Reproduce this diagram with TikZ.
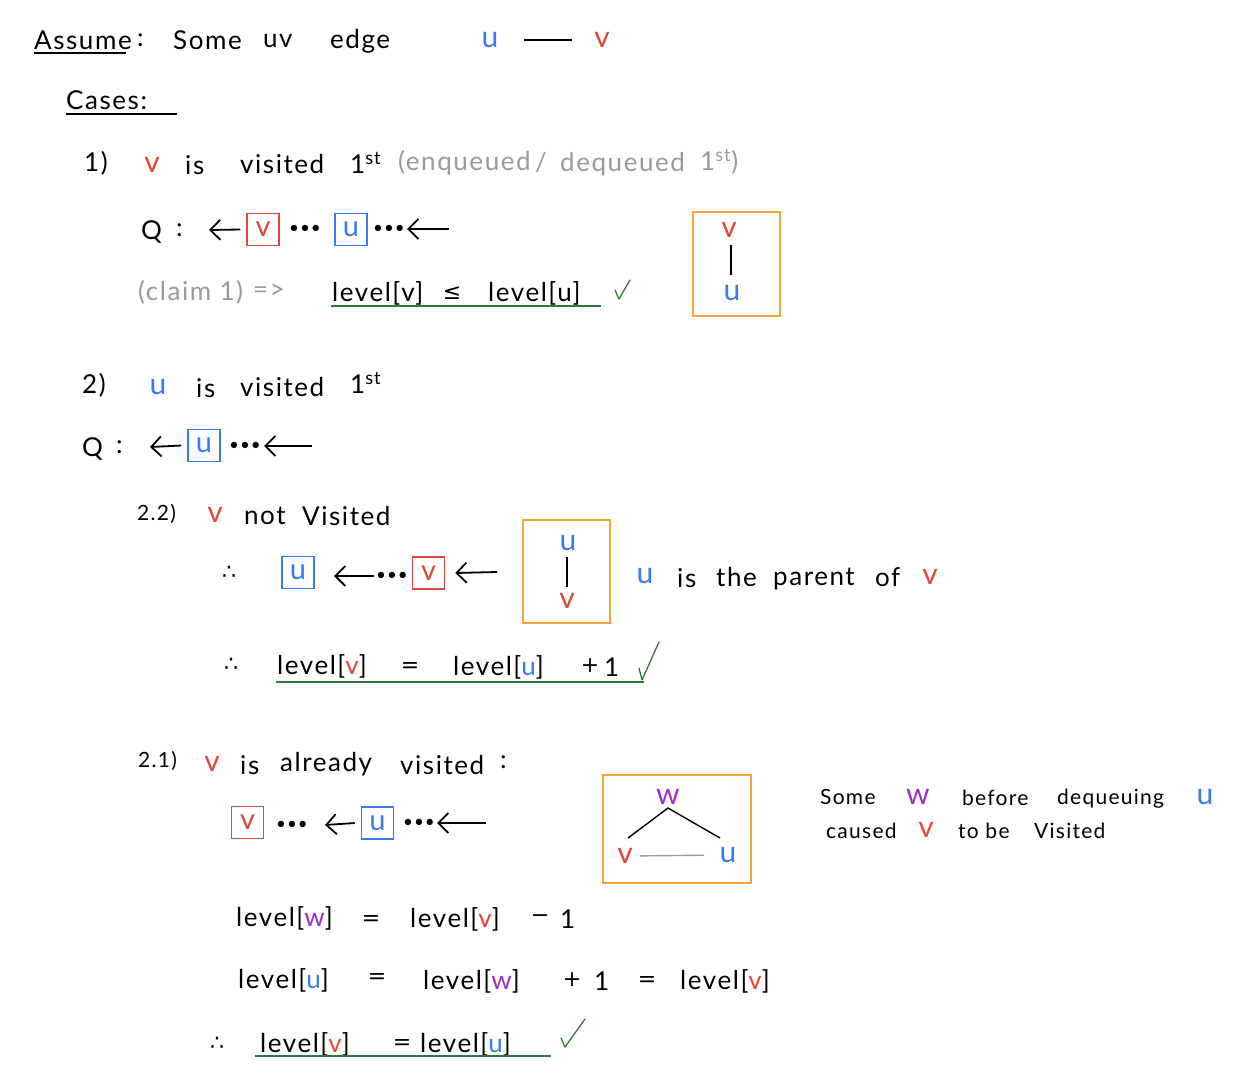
\documentclass[tikz,border=0pt]{standalone}
\usepackage{fontspec}
\setmainfont{Lato}[LetterSpace=6]
\newfontfamily\opfont{DejaVu Sans}
\usetikzlibrary{arrows.meta}
\definecolor{vred}{HTML}{E0483A}
\definecolor{ublue}{HTML}{3B7BF2}
\definecolor{frameor}{HTML}{F2A63A}
\definecolor{okgreen}{HTML}{2F7A3A}
\definecolor{wpurple}{HTML}{9B2FC4}
\definecolor{notegray}{HTML}{9A9A9A}
\newcommand{\rv}{\textcolor{vred}{v}}
\newcommand{\bu}{\textcolor{ublue}{u}}
\newcommand{\pw}{\textcolor{wpurple}{w}}
\begin{document}
\begin{tikzpicture}[x=1pt,y=-1pt,
  txt/.style={anchor=west,inner sep=0pt,font=\fontsize{26}{30}\selectfont},
  mid/.style={inner sep=0pt,font=\fontsize{30}{34}\selectfont},
  sym/.style={inner sep=0pt,font=\opfont\fontsize{22}{26}\selectfont},
  small/.style={anchor=west,inner sep=0pt,font=\fontsize{21}{25}\selectfont},
  gray/.style={txt,text=notegray},
  dots/.style={inner sep=0pt,font=\fontsize{17}{20}\selectfont},
  qbox/.style={draw,line width=1.5pt,minimum width=32pt,minimum height=32pt,inner sep=0pt,font=\fontsize{29}{32}\selectfont},
  vbox/.style={qbox,draw=vred,text=vred},
  ubox/.style={qbox,draw=ublue,text=ublue},
  frame/.style={draw=frameor,line width=1.6pt,inner sep=0pt},
  arr/.style={-{Straight Barb[length=10pt,width=20pt,line width=1.8pt]},line width=1.8pt},
  uline/.style={line width=1.4pt},
  gline/.style={okgreen,line width=1.6pt},
  check/.style={okgreen,line width=1.3pt,line cap=round,line join=round},
  edge/.style={line width=1.4pt}
]
\useasboundingbox (0,0) rectangle (1251,1088);

% ---------- heading ----------
\node[txt] (assume) at (34,40) {Assume};
\draw[uline] (34,53) -- (126,53);
\node[txt] (acol) at (137,40) {:};
\node[txt] (some) at (173,40) {Some};
\node[txt] (uv) at (263,41) {uv};
\node[txt] (edgew) at (330,41) {edge};
\node[mid,text=ublue] (eu) at (490,40) {u};
\node[mid,text=vred] (ev) at (602,40) {v};
\draw[edge,shorten <=34pt,shorten >=30pt] (eu.center) -- (ev.center);

\node[txt] (cases) at (66,100) {Cases:};
\draw[uline] (66,114) -- (177,114);

% ---------- case 1 ----------
\node[txt] (n1) at (84,163) {1)};
\node[mid,text=vred] (c1v) at (152,165) {v};
\node[txt] (c1is) at (185,165) {is};
\node[txt] (c1vis) at (240,164) {visited};
\node[txt] (c1st) at (350,163) {1\textsuperscript{st}};
\node[gray] (c1n1) at (398,163) {(enqueued};
\node[gray] (c1n2) at (535,163) {/};
\node[gray] (c1n3) at (560,164) {dequeued};
\node[gray] (c1n4) at (700,162) {1\textsuperscript{st})};

\node[txt] (q1) at (141,232) {Q};
\node[txt] (q1c) at (176,230) {:};
\node[vbox] (q1v) at (263,229.5) {v};
\node[dots] (q1d1) at (305,229) {•••};
\node[ubox] (q1u) at (351,229.5) {u};
\node[dots] (q1d2) at (389,229) {•••};
\coordinate (q1out) at (209,230);
\coordinate (q1in) at (449,229);
\draw[arr] ([xshift=-6pt]q1v.west) -- (q1out);
\draw[arr] (q1in) -- ([xshift=2pt]q1d2.east);

\node[gray] (claim) at (138,292) {(claim 1)};
\node[gray] (impl) at (253,291) {=>};
\node[txt] (c1l1) at (332,293) {level[v]};
\node[sym] (c1le) at (452,293) {≤};
\node[txt] (c1l2) at (488,293) {level[u]};
\draw[gline] (331,306) -- (601,306);
\draw[check] (615,290) -- (619,299) -- (630,280);

\node[frame,minimum width=87pt,minimum height=104pt] (f1) at (736.5,264) {};
\node[mid,text=vred] (f1v) at (729,230) {v};
\node[mid,text=ublue] (f1u) at (732,293) {u};
\draw[edge] (731,245) -- (731,275);

% ---------- case 2 ----------
\node[txt] (n2) at (82,385) {2)};
\node[mid,text=ublue] (c2u) at (158,387) {u};
\node[txt] (c2is) at (196,388) {is};
\node[txt] (c2vis) at (240,387) {visited};
\node[txt] (c2st) at (350,383) {1\textsuperscript{st}};

\node[txt] (q2) at (82,449) {Q};
\node[txt] (q2c) at (116,447) {:};
\node[ubox] (q2u) at (204,445.5) {u};
\node[dots] (q2d) at (245,446) {•••};
\coordinate (q2out) at (150,447);
\coordinate (q2in) at (312,446);
\draw[arr] ([xshift=-6pt]q2u.west) -- (q2out);
\draw[arr] (q2in) -- ([xshift=3pt]q2d.east);

% ---------- case 2.2 ----------
\node[small] (n22) at (137,514) {2.2)};
\node[mid,text=vred] (c22v) at (215,515) {v};
\node[txt] (c22not) at (244,516) {not};
\node[txt] (c22vis) at (302,516) {Visited};

\node[sym] (tf1) at (229,573) {∴};
\node[ubox] (q3u) at (298,572.5) {u};
\node[dots] (q3d) at (392,576) {•••};
\node[vbox] (q3v) at (428.5,573) {v};
\coordinate (q3out) at (334,576);
\coordinate (q3in) at (497,572);
\draw[arr] ([xshift=-2pt]q3d.west) -- (q3out);
\draw[arr] (q3in) -- ([xshift=10pt]q3v.east);

\node[frame,minimum width=87pt,minimum height=103pt] (f2) at (566.5,571.5) {};
\node[mid,text=ublue] (f2u) at (568,543) {u};
\node[mid,text=vred] (f2v) at (567,601) {v};
\draw[edge] (567,557) -- (567,587);

\node[mid,text=ublue] (pu) at (645,576) {u};
\node[txt] (pis) at (677,578) {is};
\node[txt] (pthe) at (716,577) {the};
\node[txt] (ppar) at (773,579) {parent};
\node[txt] (pof) at (875,577) {of};
\node[mid,text=vred] (pv) at (930,577) {v};

\node[sym] (tf2) at (231,665) {∴};
\node[txt] (e1a) at (277,666) {level[\rv]};
\node[sym] (e1b) at (410,667) {=};
\node[txt] (e1c) at (453,667) {level[\bu]};
\node[sym] (e1d) at (590,666) {+};
\node[txt] (e1e) at (604,667) {1};
\draw[gline] (276,682) -- (644,682);
\draw[check] (639,668) -- (642,680) -- (659,642);

% ---------- case 2.1 ----------
\node[small] (n21) at (138,761) {2.1)};
\node[mid,text=vred] (c21v) at (212,764) {v};
\node[txt] (c21is) at (240,765) {is};
\node[txt] (c21al) at (280,764) {already};
\node[txt] (c21vis) at (400,765) {visited};
\node[txt] (c21c) at (500,762) {:};

\node[vbox] (q4v) at (247.5,822.5) {v};
\node[dots] (q4d1) at (292,825) {•••};
\node[ubox] (q4u) at (377.5,823) {u};
\node[dots] (q4d2) at (419,823) {•••};
\coordinate (q4out) at (325,825);
\coordinate (q4in) at (486,823);
\draw[arr] ([xshift=-6pt]q4u.west) -- (q4out);
\draw[arr] (q4in) -- ([xshift=2pt]q4d2.east);

\node[frame,minimum width=148pt,minimum height=108pt] (f3) at (677,829) {};
\node[mid,text=wpurple] (f3w) at (668,797) {w};
\node[mid,text=vred] (f3v) at (625,856) {v};
\node[mid,text=ublue] (f3u) at (728,855) {u};
\coordinate (apex) at (668,808);
\coordinate (legl) at (628,838);
\coordinate (legr) at (720,838);
\draw[edge,line join=round] (legl) -- (apex) -- (legr);
\draw[edge,notegray,shorten <=15pt,shorten >=24pt] (f3v.center) -- (f3u.center);

\node[small] (s1) at (820,797) {Some};
\node[mid,text=wpurple] (s2) at (918,797) {w};
\node[small] (s3) at (962,798) {before};
\node[small] (s4) at (1057,799) {dequeuing};
\node[mid,text=ublue] (s5) at (1205,797) {u};
\node[small] (t1) at (826,831) {caused};
\node[mid,text=vred] (t2) at (926,830) {v};
\node[small] (t3) at (958,831) {to be};
\node[small] (t4) at (1034,831) {Visited};

\node[txt] (e2a) at (236,918) {level[\pw]};
\node[sym] (e2b) at (371,920) {=};
\node[txt] (e2c) at (410,919) {level[\rv]};
\node[sym] (e2d) at (540,919) {−};
\node[txt] (e2e) at (560,919) {1};

\node[txt] (e3a) at (238,980) {level[\bu]};
\node[sym] (e3b) at (377,978) {=};
\node[txt] (e3c) at (423,981) {level[\pw]};
\node[sym] (e3d) at (572,980) {+};
\node[txt] (e3e) at (594,981) {1};
\node[sym] (e3f) at (647,981) {=};
\node[txt] (e3g) at (680,981) {level[\rv]};

\node[sym] (tf3) at (217,1044) {∴};
\node[txt] (e4a) at (260,1044) {level[\rv]};
\node[sym] (e4b) at (402,1044) {=};
\node[txt] (e4c) at (420,1044) {level[\bu]};
\draw[gline] (255,1056) -- (551,1056);
\draw[check] (561,1038) -- (565,1047) -- (585,1019);
\end{tikzpicture}
\end{document}
